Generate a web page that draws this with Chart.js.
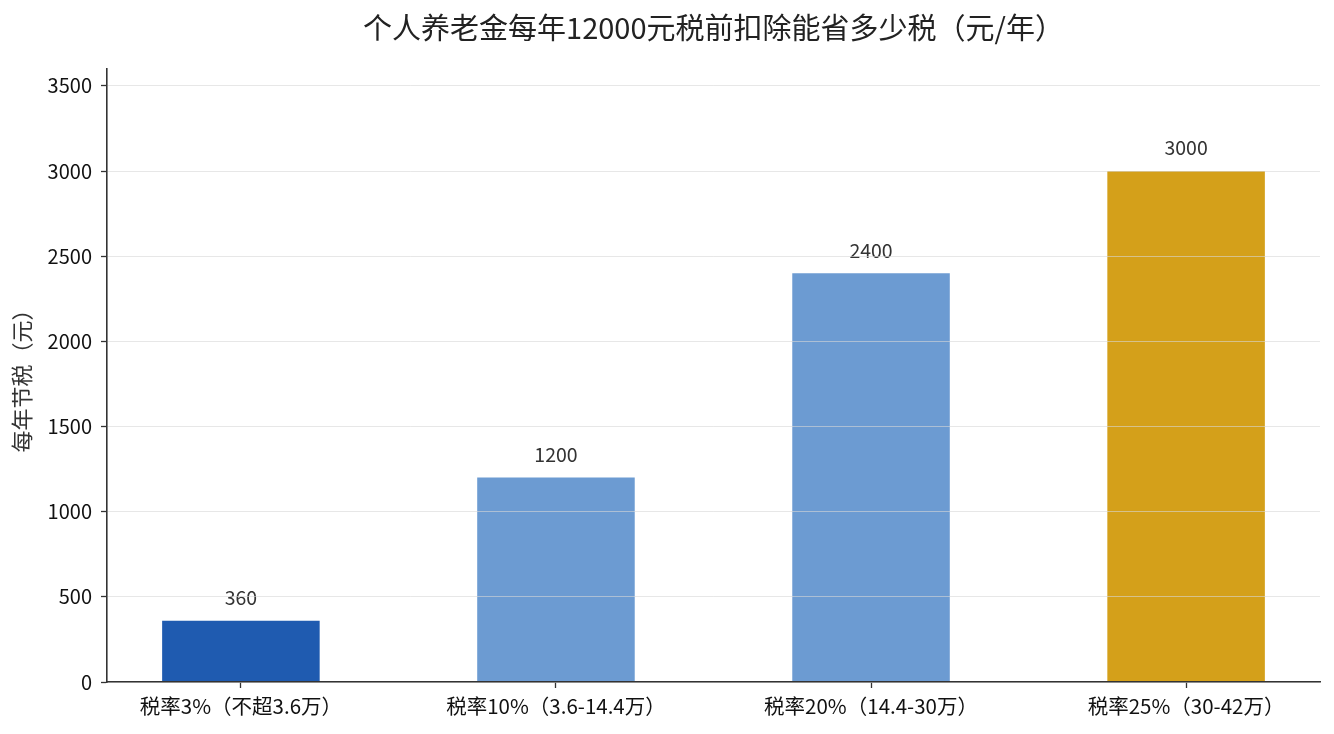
<!DOCTYPE html>
<html>
<head>
<meta charset="utf-8">
<script src="https://cdn.jsdelivr.net/npm/chart.js@4"></script>
<style>
  html, body { margin: 0; padding: 0; background: #ffffff; }
  #wrap { width: 1334px; height: 734px; position: relative; }
</style>
</head>
<body>
<div id="wrap"><canvas id="c"></canvas></div>
<script>
const categories = ['税率3%（不超3.6万）', '税率10%（3.6-14.4万）', '税率20%（14.4-30万）', '税率25%（30-42万）'];
const savings = [360, 1200, 2400, 3000];
const barColors = ['#1f5bb0', '#6c9bd2', '#6c9bd2', '#d4a01a'];
const yTicks = [0, 500, 1000, 1500, 2000, 2500, 3000, 3500];
const titleText = '个人养老金每年12000元税前扣除能省多少税（元/年）';
const yTitle = '每年节税（元）';

const FONT = '"Noto Sans CJK SC", "Noto Sans", sans-serif';

const valueLabels = {
  id: 'valueLabels',
  afterDatasetsDraw(chart) {
    const ctx = chart.ctx;
    const meta = chart.getDatasetMeta(0);
    ctx.save();
    ctx.font = '19.5px ' + FONT;
    ctx.fillStyle = '#333333';
    ctx.textAlign = 'center';
    ctx.textBaseline = 'middle';
    meta.data.forEach((bar, i) => {
      ctx.fillText(String(savings[i]), bar.x, bar.y - 23);
    });
    ctx.restore();
  }
};

new Chart(document.getElementById('c'), {
  type: 'bar',
  data: {
    datasets: [{
      data: savings.map((v, i) => ({ x: i, y: v })),
      backgroundColor: barColors,
      borderWidth: 0,
      barPercentage: 1.0,
      categoryPercentage: 0.5
    }]
  },
  options: {
    responsive: true,
    maintainAspectRatio: false,
    animation: false,
    layout: { padding: { left: 0, right: 14, top: 0, bottom: 0 } },
    plugins: {
      legend: { display: false },
      tooltip: { enabled: false },
      title: {
        display: true,
        fullSize: false,
        text: titleText,
        color: '#222222',
        font: { family: FONT, size: 29, weight: 'normal' },
        padding: { top: 11, bottom: 23 }
      }
    },
    scales: {
      x: {
        type: 'linear',
        offset: false,
        min: -0.425,
        max: 3.425,
        bounds: 'data',
        afterBuildTicks: (s) => { s.ticks = categories.map((c, i) => ({ value: i })); },
        afterFit: (s) => { s.height = 52; },
        ticks: {
          autoSkip: false,
          maxRotation: 0,
          color: '#111111',
          padding: 6,
          font: { family: FONT, size: 20.5 },
          callback: (v) => categories[v] !== undefined ? categories[v] : ''
        },
        grid: {
          offset: false,
          drawOnChartArea: false,
          drawTicks: true,
          tickLength: 6,
          tickColor: '#333333',
          tickWidth: 1.3
        },
        border: { display: true, color: '#333333', width: 1.6, z: 2 }
      },
      y: {
        min: 0,
        max: 3600,
        afterBuildTicks: (s) => { s.ticks = yTicks.map(v => ({ value: v })); },
        afterFit: (s) => { s.width = 107; },
        ticks: {
          color: '#111111',
          padding: 9,
          font: { family: FONT, size: 20 },
          callback: (v) => String(v)
        },
        title: {
          display: true,
          text: yTitle,
          color: '#333333',
          font: { family: FONT, size: 22 },
          padding: { top: 8, bottom: 0 }
        },
        grid: {
          z: 1,
          color: 'rgba(215,215,215,0.6)',
          lineWidth: 1,
          drawTicks: true,
          tickLength: 6,
          tickColor: '#333333',
          tickWidth: 1.3
        },
        border: { display: true, color: '#333333', width: 1.6, z: 2 }
      }
    }
  },
  plugins: [valueLabels]
});
</script>
</body>
</html>
